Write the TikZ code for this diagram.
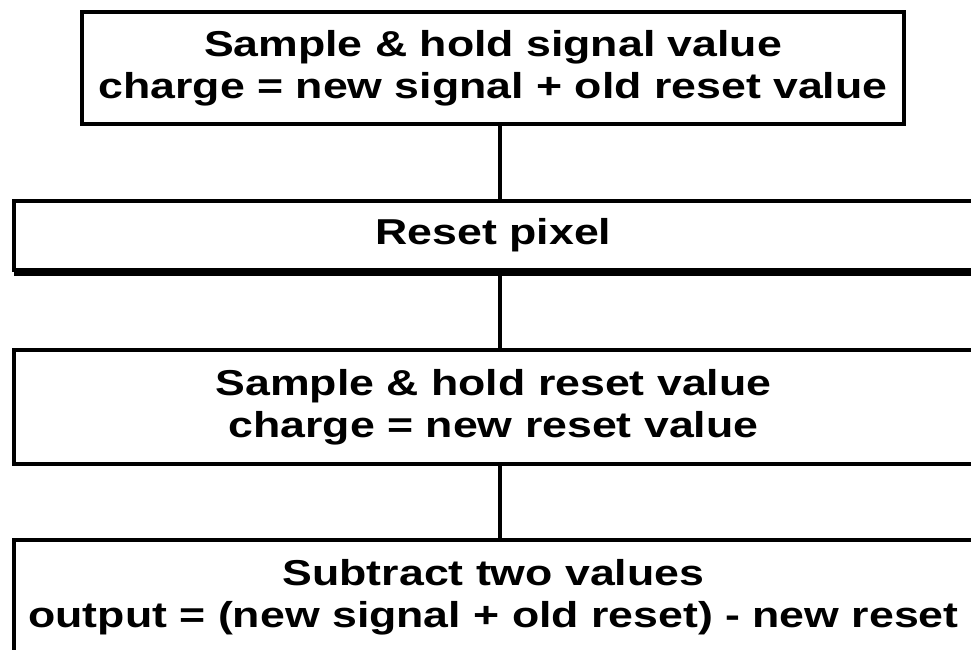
\documentclass[tikz,border=0pt]{standalone}
\usepackage{fontspec}
\setmainfont{Liberation Sans}[FakeStretch=1.24]
\begin{document}
\begin{tikzpicture}[x=1pt,y=-1pt,
  stepbox/.style={draw=black,line width=3.5pt,fill=white,inner sep=0pt,outer sep=0pt,
    align=center,font=\fontsize{36}{42}\selectfont\bfseries},
  link/.style={draw=black,line width=4pt}]
\useasboundingbox (0,0) rectangle (971,649);
\clip (0,0) rectangle (971,649);
\fill[white] (0,0) rectangle (971,649);
\coordinate (axis) at (500,0);
\node[stepbox,minimum width=822pt,minimum height=112pt] (b1) at (493,68)
  {Sample \& hold signal value\\charge = new signal + old reset value};
\node[stepbox,minimum width=959pt,minimum height=69pt] (b2) at (493.5,235.5)
  {Reset pixel};
\draw[line width=8pt] ([yshift=-2pt]b2.south west) -- ([yshift=-2pt]b2.south east);
\node[stepbox,minimum width=959pt,minimum height=114pt] (b3) at (493.5,407)
  {Sample \& hold reset value\\charge = new reset value};
\node[stepbox,minimum width=959pt,minimum height=114pt] (b4) at (493.5,597)
  {Subtract two values\\output = (new signal + old reset) - new reset};
\draw[link] (b1.south -| axis) -- (b2.north -| axis);
\draw[link] ([yshift=-4pt]b2.south -| axis) -- (b3.north -| axis);
\draw[link] (b3.south -| axis) -- (b4.north -| axis);
\end{tikzpicture}
\end{document}
